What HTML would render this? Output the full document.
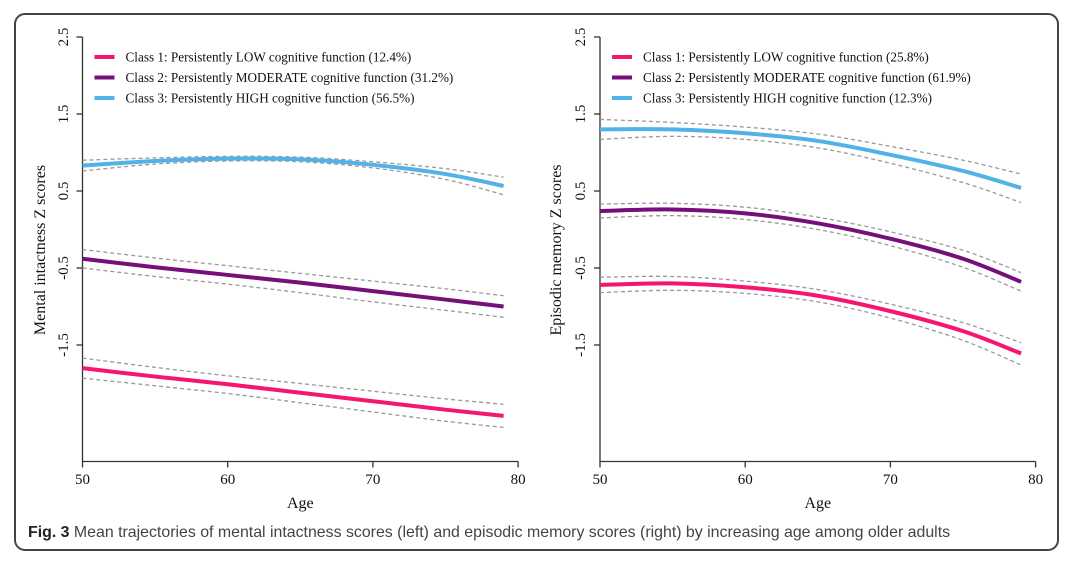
<!DOCTYPE html>
<html><head><meta charset="utf-8"><style>
body{margin:0;background:#fff}
svg{display:block}
text{font-family:"Liberation Serif",serif;fill:#111}
</style></head><body>
<svg width="1080" height="574" viewBox="0 0 1080 574">
<rect x="15" y="14" width="1043" height="536" rx="10" fill="#fff" stroke="#444" stroke-width="2"/>
<g id="left"></g>
<g id="right"></g>
<text x="28" y="537" style="font-family:'Liberation Sans',sans-serif;font-size:15.9px;fill:#444"><tspan font-weight="bold" fill="#222">Fig. 3</tspan> Mean trajectories of mental intactness scores (left) and episodic memory scores (right) by increasing age among older adults</text>
</svg>
<script>
const ages = [50,55,60,65,70,75,79];
const xTicks = [50,60,70,80];
const yTicks = [2.5,1.5,0.5,-0.5,-1.5];
const yTickLabels = ["2.5","1.5","0.5","-0.5","-1.5"];
const colors = ["#f5166f","#760f7a","#50b2e6"];
// Left panel: mental intactness
const leftMean1 = [-1.80,-1.91,-2.01,-2.12,-2.23,-2.34,-2.42];
const leftLow1  = [-1.93,-2.03,-2.13,-2.25,-2.37,-2.49,-2.57];
const leftUp1   = [-1.67,-1.79,-1.90,-2.00,-2.10,-2.20,-2.27];
const leftMean2 = [-0.38,-0.49,-0.59,-0.69,-0.80,-0.91,-1.00];
const leftLow2  = [-0.50,-0.61,-0.71,-0.82,-0.94,-1.05,-1.14];
const leftUp2   = [-0.26,-0.37,-0.47,-0.57,-0.67,-0.77,-0.86];
const leftMean3 = [0.83,0.89,0.92,0.91,0.84,0.72,0.565];
const leftLow3  = [0.76,0.85,0.89,0.88,0.80,0.65,0.45];
const leftUp3   = [0.90,0.93,0.95,0.94,0.88,0.79,0.68];
// Right panel: episodic memory
const rightMean1 = [-0.72,-0.70,-0.75,-0.86,-1.06,-1.32,-1.61];
const rightLow1  = [-0.82,-0.79,-0.83,-0.94,-1.15,-1.44,-1.76];
const rightUp1   = [-0.62,-0.61,-0.67,-0.78,-0.97,-1.21,-1.47];
const rightMean2 = [0.24,0.26,0.21,0.08,-0.12,-0.38,-0.68];
const rightLow2  = [0.15,0.18,0.13,0.00,-0.21,-0.49,-0.80];
const rightUp2   = [0.33,0.34,0.29,0.16,-0.03,-0.27,-0.56];
const rightMean3 = [1.30,1.30,1.25,1.15,0.97,0.76,0.54];
const rightLow3  = [1.17,1.21,1.17,1.06,0.86,0.61,0.35];
const rightUp3   = [1.43,1.39,1.33,1.24,1.08,0.90,0.72];
const leftLegend = ["Class 1: Persistently LOW cognitive function (12.4%)","Class 2: Persistently MODERATE cognitive function (31.2%)","Class 3: Persistently HIGH cognitive function (56.5%)"];
const rightLegend = ["Class 1: Persistently LOW cognitive function (25.8%)","Class 2: Persistently MODERATE cognitive function (61.9%)","Class 3: Persistently HIGH cognitive function (12.3%)"];

const NS="http://www.w3.org/2000/svg";
function mk(tag,attrs,parent){const e=document.createElementNS(NS,tag);for(const k in attrs)e.setAttribute(k,attrs[k]);parent.appendChild(e);return e;}
function path(pts){let d="M"+pts[0][0]+","+pts[0][1];for(let i=0;i<pts.length-1;i++){const p0=pts[Math.max(i-1,0)],p1=pts[i],p2=pts[i+1],p3=pts[Math.min(i+2,pts.length-1)];const c1=[p1[0]+(p2[0]-p0[0])/6,p1[1]+(p2[1]-p0[1])/6],c2=[p2[0]-(p3[0]-p1[0])/6,p2[1]-(p3[1]-p1[1])/6];d+=" C"+c1[0]+","+c1[1]+" "+c2[0]+","+c2[1]+" "+p2[0]+","+p2[1];}return d;}

function panel(g,ox,ylabelX,tickLabelX,ylabel,series,legend){
  const x=a=>ox+(a-50)*14.52;
  const y=v=>191-(v-0.5)*77;
  const yBottom=461.5;
  const ax=mk("path",{d:"M"+x(50)+","+y(2.5)+" L"+x(50)+","+yBottom+" L"+x(80)+","+yBottom,fill:"none",stroke:"#333","stroke-width":1.3},g);
  
  
  yTicks.forEach((t,i)=>{
    const tk=mk("line",{x1:x(50)-6,x2:x(50),y1:y(t),y2:y(t),stroke:"#333","stroke-width":1.3},g);
    
    
    const tl=mk("text",{x:0,y:0,"font-size":15,"text-anchor":"middle",transform:"translate("+(tickLabelX+5)+","+y(t)+") rotate(-90)"},g);
    
    
    tl.textContent=yTickLabels[i];
  });
  xTicks.forEach(t=>{
    const tk=mk("line",{x1:x(t),x2:x(t),y1:yBottom,y2:yBottom+6,stroke:"#333","stroke-width":1.3},g);
    
    
    const tl=mk("text",{x:x(t),y:484,"font-size":15,"text-anchor":"middle"},g);
    
    
    tl.textContent=t;
  });
  const xt=mk("text",{x:(x(50)+x(80))/2,y:508,"font-size":16,"text-anchor":"middle"},g);
  
  
  xt.textContent="Age";
  const yt=mk("text",{x:0,y:0,"font-size":16,"text-anchor":"middle",transform:"translate("+(ylabelX+5)+",250) rotate(-90)"},g);
  
  
  yt.textContent=ylabel;
  series.forEach((s,k)=>{
    [s[1],s[2]].forEach(arr=>{
      const p=mk("path",{d:path(ages.map((a,i)=>[x(a),y(arr[i])])),fill:"none",stroke:"#999","stroke-width":1.3,"stroke-dasharray":"4,3"},g);
      
      
    });
    const m=mk("path",{d:path(ages.map((a,i)=>[x(a),y(s[0][i])])),fill:"none",stroke:colors[k],"stroke-width":4},g);
    
    
  });
  legend.forEach((t,k)=>{
    const ly=57+k*20.5;
    const l=mk("line",{x1:x(50)+12,x2:x(50)+32,y1:ly,y2:ly,stroke:colors[k],"stroke-width":4},g);
    
    
    const tx=mk("text",{x:x(50)+43,y:ly+4.5,"font-size":13.2},g);
    
    
    tx.textContent=t;
  });
}
panel(document.getElementById("left"),82.5,40,63,"Mental intactness Z scores",
  [[leftMean1,leftLow1,leftUp1],[leftMean2,leftLow2,leftUp2],[leftMean3,leftLow3,leftUp3]],leftLegend);
panel(document.getElementById("right"),600,556,580,"Episodic memory Z scores",
  [[rightMean1,rightLow1,rightUp1],[rightMean2,rightLow2,rightUp2],[rightMean3,rightLow3,rightUp3]],rightLegend);
</script>
</body></html>
